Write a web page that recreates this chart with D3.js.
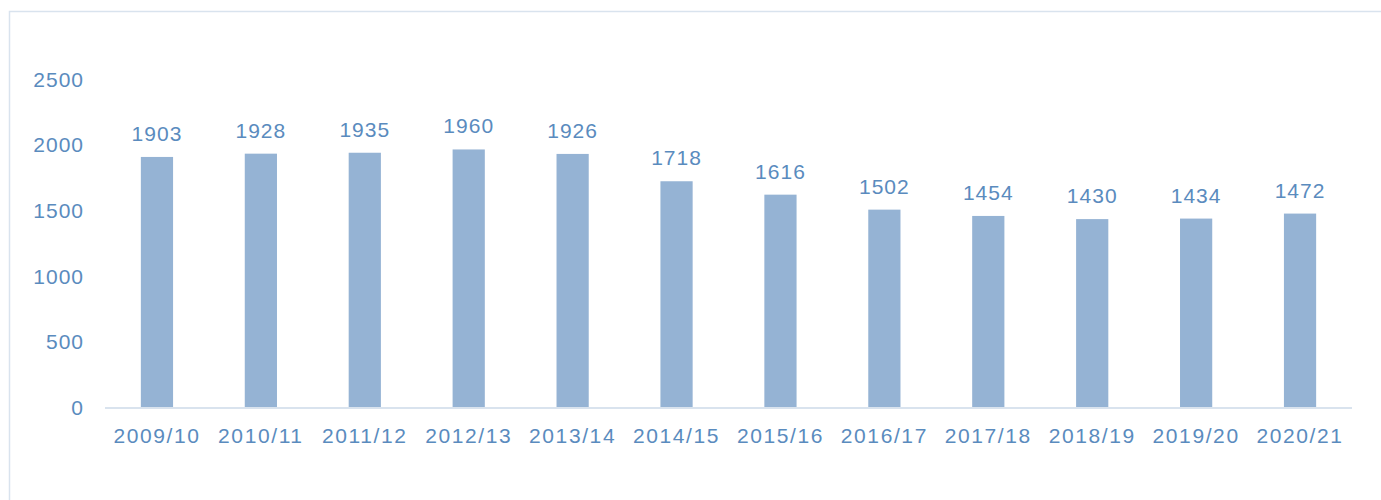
<!DOCTYPE html>
<html><head><meta charset="utf-8">
<script src="https://cdn.jsdelivr.net/npm/d3@7"></script>
<style>body{margin:0;background:#fff}svg{display:block}text{font-family:"Liberation Sans",Arial,sans-serif}</style>
</head><body>
<svg id="c" width="1381" height="500"></svg>
<script>
const categories = ["2009/10","2010/11","2011/12","2012/13","2013/14","2014/15","2015/16","2016/17","2017/18","2018/19","2019/20","2020/21"];
const values = [1903,1928,1935,1960,1926,1718,1616,1502,1454,1430,1434,1472];
const yTicks = [0,500,1000,1500,2000,2500];

const svg = d3.select("#c");
const textColor = "#5A8BBE", barColor = "#95B3D4", lineColor = "#D9E3EE";

svg.append("rect").attr("x",9.5).attr("y",11.5).attr("width",1400).attr("height",520)
  .attr("fill","none").attr("stroke",lineColor).attr("stroke-width",1.5);

const x = d3.scaleBand().domain(categories).range([105,1352]).paddingInner(0.69).paddingOuter(0.345);
const y = d3.scaleLinear().domain([0,2500]).range([407,78.5]);

svg.append("g").selectAll("rect").data(values).join("rect")
  .attr("x",(d,i)=>x(categories[i])).attr("width",x.bandwidth())
  .attr("y",d=>y(d)).attr("height",d=>y(0)-y(d)).attr("fill",barColor);

// x axis line
svg.append("line").attr("x1",105).attr("x2",1352).attr("y1",y(0)+1).attr("y2",y(0)+1)
  .attr("stroke",lineColor).attr("stroke-width",2);

// y tick labels
svg.append("g").selectAll("text").data(yTicks).join("text")
  .attr("x",84).attr("y",d=>y(d)+8).attr("text-anchor","end")
  .attr("font-size",21).attr("letter-spacing",1).attr("fill",textColor).text(d=>d);

// x labels
svg.append("g").selectAll("text").data(categories).join("text")
  .attr("x",d=>x(d)+x.bandwidth()/2).attr("y",y(0)+36).attr("text-anchor","middle")
  .attr("font-size",21).attr("letter-spacing",1.6).attr("fill",textColor).text(d=>d);

// value labels
svg.append("g").selectAll("text").data(values).join("text")
  .attr("x",(d,i)=>x(categories[i])+x.bandwidth()/2).attr("y",d=>y(d)-16).attr("text-anchor","middle")
  .attr("font-size",21).attr("letter-spacing",1).attr("fill",textColor).text(d=>d);
</script>
</body></html>
